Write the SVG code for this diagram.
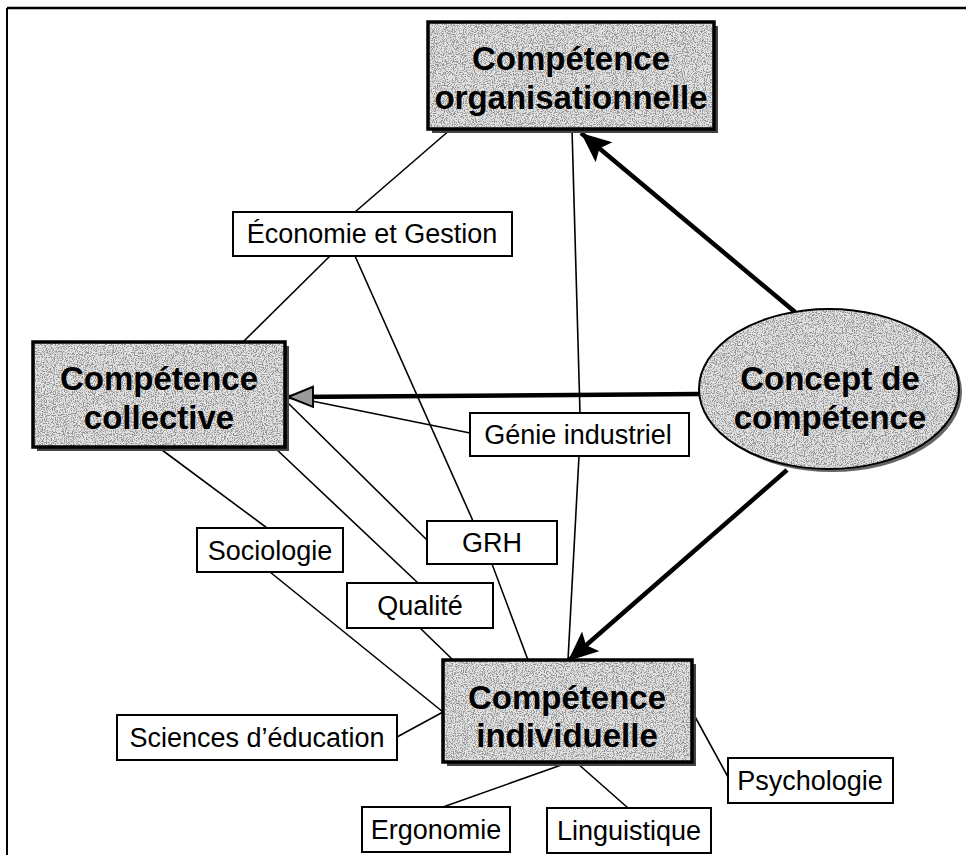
<svg xmlns="http://www.w3.org/2000/svg" width="971" height="860" viewBox="0 0 971 860">
<defs>
<style>
.title{font-family:"Liberation Sans",Arial,sans-serif;font-weight:bold;font-size:33px;fill:#000;text-anchor:middle}
.lab{font-family:"Liberation Sans",Arial,sans-serif;font-size:27px;fill:#000;text-anchor:middle}
.lbox{fill:#fff;stroke:#000;stroke-width:2}
.tfill{fill:#e2e2e2}
.tbox{fill:none;stroke:#000;stroke-width:3.5}
.shadow{fill:#444}
.thin{stroke:#000;stroke-width:1.6;fill:none}
.thick{stroke:#000;stroke-width:4.5;fill:none}
</style>
<filter id="speckle" x="0" y="0" width="100%" height="100%">
<feTurbulence type="fractalNoise" baseFrequency="0.9" numOctaves="2" seed="4" result="n"/>
<feColorMatrix in="n" type="matrix" values="0 0 0 0 0.3  0 0 0 0 0.3  0 0 0 0 0.3  7 0 0 0 -3.3" result="dots"/>
<feComposite in="dots" in2="SourceAlpha" operator="in" result="cd"/>
<feMerge><feMergeNode in="SourceGraphic"/><feMergeNode in="cd"/></feMerge>
</filter>
<marker id="ah" markerUnits="userSpaceOnUse" markerWidth="34" markerHeight="28" refX="30" refY="13" orient="auto">
<path d="M0,0 L30,13 L0,26 L6,13 Z" fill="#000"/>
</marker>
<marker id="ahg" markerUnits="userSpaceOnUse" markerWidth="30" markerHeight="24" refX="26" refY="11" orient="auto">
<path d="M1,1 L26,11 L1,21 Z" fill="#9a9a9a" stroke="#000" stroke-width="2"/>
</marker>
</defs>
<rect width="971" height="860" fill="#fff"/>
<g id="frame">
<line x1="7" y1="8" x2="966" y2="8" stroke="#000" stroke-width="2.5"/>
<line x1="7" y1="8" x2="7" y2="855" stroke="#000" stroke-width="2"/>
</g>
<g id="connectors">
<line class="thin" x1="451" y1="129" x2="355" y2="212"/>
<line class="thin" x1="330" y1="256" x2="243" y2="342"/>
<line class="thin" x1="355" y1="256" x2="473" y2="521"/>
<line class="thin" x1="492" y1="564" x2="528" y2="660"/>
<line class="thin" x1="572" y1="129" x2="580" y2="413"/>
<line class="thin" x1="579" y1="456" x2="568" y2="660"/>
<line class="thin" x1="292" y1="397" x2="470" y2="433"/>
<line class="thin" x1="287" y1="402" x2="427" y2="540"/>
<line class="thin" x1="274" y1="447" x2="418" y2="583"/>
<line class="thin" x1="420" y1="628" x2="453" y2="660"/>
<line class="thin" x1="158" y1="447" x2="267" y2="528"/>
<line class="thin" x1="270" y1="572" x2="443" y2="712"/>
<line class="thin" x1="397" y1="737" x2="443" y2="712"/>
<line class="thin" x1="567" y1="763" x2="443" y2="807"/>
<line class="thin" x1="577" y1="763" x2="628" y2="808"/>
<line class="thin" x1="693" y1="713" x2="728" y2="777"/>
<line class="thick" x1="795" y1="312" x2="581" y2="133" marker-end="url(#ah)"/>
<line class="thick" x1="787" y1="470" x2="568" y2="661" marker-end="url(#ah)"/>
<line class="thick" x1="699" y1="394" x2="288" y2="397" marker-end="url(#ahg)"/>
</g>
<g id="n-org">
<rect class="shadow" x="432" y="26" width="286" height="107"/>
<rect class="tfill" x="428" y="22" width="286" height="107" filter="url(#speckle)"/>
<rect class="tbox" x="428" y="22" width="286" height="107"/>
<text class="title" x="571" y="70">Compétence</text>
<text class="title" x="571" y="109">organisationnelle</text>
</g>
<g id="n-collective">
<rect class="shadow" x="37" y="346" width="252" height="105"/>
<rect class="tfill" x="33" y="342" width="252" height="105" filter="url(#speckle)"/>
<rect class="tbox" x="33" y="342" width="252" height="105"/>
<text class="title" x="159" y="390">Compétence</text>
<text class="title" x="159" y="429">collective</text>
</g>
<g id="n-individuelle">
<rect class="shadow" x="447" y="664" width="249" height="102"/>
<rect class="tfill" x="443" y="660" width="249" height="102" filter="url(#speckle)"/>
<rect class="tbox" x="443" y="660" width="249" height="102"/>
<text class="title" x="567" y="709">Compétence</text>
<text class="title" x="567" y="747">individuelle</text>
</g>
<g id="n-concept">
<ellipse cx="832" cy="392" rx="130" ry="80" fill="#666"/>
<ellipse cx="829" cy="389" rx="130" ry="80" class="tfill" filter="url(#speckle)"/>
<ellipse cx="829" cy="389" rx="130" ry="80" fill="none" stroke="#000" stroke-width="2"/>
<text class="title" x="830" y="390">Concept de</text>
<text class="title" x="830" y="429">compétence</text>
</g>
<g id="l-economie">
<rect class="lbox" x="233" y="212" width="279" height="44"/>
<text class="lab" x="372" y="243">Économie et Gestion</text>
</g>
<g id="l-genie">
<rect class="lbox" x="470" y="413" width="219" height="43"/>
<text class="lab" x="578" y="444">Génie industriel</text>
</g>
<g id="l-grh">
<rect class="lbox" x="427" y="521" width="130" height="43"/>
<text class="lab" x="492" y="552">GRH</text>
</g>
<g id="l-sociologie">
<rect class="lbox" x="197" y="528" width="146" height="44"/>
<text class="lab" x="270" y="560">Sociologie</text>
</g>
<g id="l-qualite">
<rect class="lbox" x="347" y="583" width="146" height="45"/>
<text class="lab" x="420" y="615">Qualité</text>
</g>
<g id="l-sciences">
<rect class="lbox" x="117" y="715" width="280" height="45"/>
<text class="lab" x="257" y="747">Sciences d’éducation</text>
</g>
<g id="l-psychologie">
<rect class="lbox" x="728" y="758" width="165" height="45"/>
<text class="lab" x="810" y="790">Psychologie</text>
</g>
<g id="l-ergonomie">
<rect class="lbox" x="362" y="807" width="148" height="45"/>
<text class="lab" x="436" y="839">Ergonomie</text>
</g>
<g id="l-linguistique">
<rect class="lbox" x="547" y="808" width="164" height="45"/>
<text class="lab" x="629" y="840">Linguistique</text>
</g>
</svg>
